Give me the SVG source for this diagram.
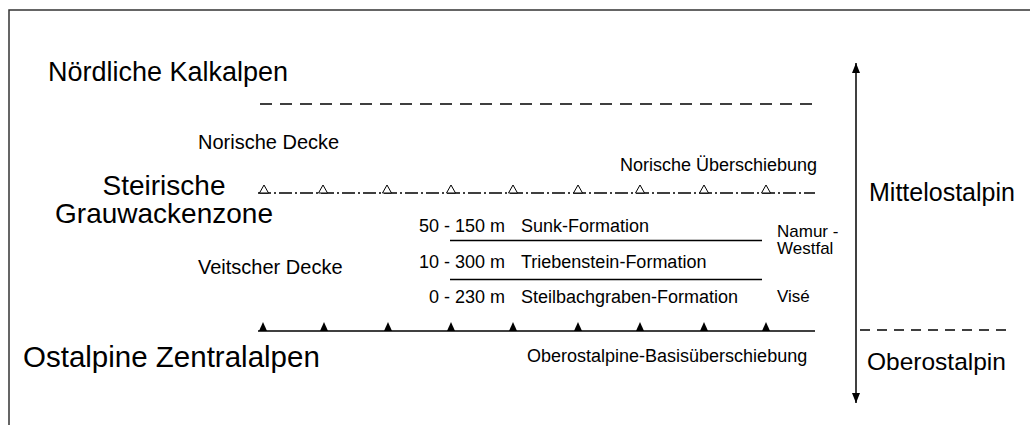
<svg xmlns="http://www.w3.org/2000/svg" width="1030" height="425" viewBox="0 0 1030 425">
<style>
text{font-family:"Liberation Sans",Arial,sans-serif;fill:#000}
.big{font-size:27px}
.sm{font-size:18px}
.xs{font-size:17px}
.md{font-size:20px}
.ln{stroke:#000;stroke-width:1.5;fill:none}
.frame{stroke:#333;stroke-width:1.5;fill:none}
.otri{fill:#fff;stroke:#000;stroke-width:1}
.ftri{fill:#000;stroke:none}
</style>
<defs>
<polygon id="ot" class="otri" points="-4.5,0 4.5,0 0,-8"/>
<polygon id="ft" class="ftri" points="-4,0 4,0 0,-9"/>
<marker id="ah" viewBox="0 0 10 10" refX="10" refY="5" markerWidth="10" markerHeight="10" markerUnits="userSpaceOnUse" orient="auto-start-reverse">
<path d="M0,1 L10,5 L0,9 z" fill="#000"/>
</marker>
</defs>
<path class="frame" d="M9,425 V10 H1030"/>
<g id="connectors">
<line id="top-dash" class="ln" x1="260" y1="104" x2="812" y2="104" stroke-dasharray="12 8"/>
<line id="norische-line" x1="258" y1="193" x2="815" y2="193" stroke="#000" stroke-width="1.5" stroke-dasharray="13 3 2 3"/>
<line id="sunk-line" class="ln" x1="450" y1="240.5" x2="762" y2="240.5"/>
<line id="trieben-line" class="ln" x1="450" y1="279.5" x2="762" y2="279.5"/>
<line id="basal-line" class="ln" x1="258" y1="331" x2="815" y2="331"/>
<line id="scale-arrow" class="ln" x1="856" y1="63" x2="856" y2="403" marker-start="url(#ah)" marker-end="url(#ah)"/>
<line id="right-dash" class="ln" x1="860" y1="330" x2="1010" y2="330" stroke-dasharray="10 7"/>
</g>
<g id="norische-triangles">
<use href="#ot" x="264" y="193"/><use href="#ot" x="323" y="193"/><use href="#ot" x="387" y="193"/>
<use href="#ot" x="451" y="193"/><use href="#ot" x="513" y="193"/><use href="#ot" x="578" y="193"/>
<use href="#ot" x="640" y="193"/><use href="#ot" x="704" y="193"/><use href="#ot" x="766" y="193"/>
</g>
<g id="basal-triangles">
<use href="#ft" x="263" y="331"/><use href="#ft" x="324" y="331"/><use href="#ft" x="388" y="331"/>
<use href="#ft" x="451" y="331"/><use href="#ft" x="513" y="331"/><use href="#ft" x="578" y="331"/>
<use href="#ft" x="640" y="331"/><use href="#ft" x="704" y="331"/><use href="#ft" x="766" y="331"/>
</g>
<g id="n-kalkalpen"><text class="big" x="48" y="81">Nördliche Kalkalpen</text></g>
<g id="n-norische-decke"><text class="md" x="198" y="149">Norische Decke</text></g>
<g id="n-norische-ueb"><text class="sm" x="817" y="171" text-anchor="end">Norische Überschiebung</text></g>
<g id="n-grauwacken"><text class="big" x="164" y="195" text-anchor="middle" style="font-size:28px">Steirische</text><text class="big" x="164" y="223" text-anchor="middle" style="font-size:28px">Grauwackenzone</text></g>
<g id="n-veitscher"><text class="md" x="198" y="274">Veitscher Decke</text></g>
<g id="n-sunk"><text class="sm" x="505" y="232" text-anchor="end">50 - 150 m</text><text class="sm" x="521" y="232">Sunk-Formation</text></g>
<g id="n-trieben"><text class="sm" x="505" y="268" text-anchor="end">10 - 300 m</text><text class="sm" x="521" y="268">Triebenstein-Formation</text></g>
<g id="n-steilbach"><text class="sm" x="505" y="303" text-anchor="end">0 - 230 m</text><text class="sm" x="521" y="303">Steilbachgraben-Formation</text></g>
<g id="n-namur"><text class="xs" x="777" y="237">Namur -</text><text class="xs" x="777" y="254">Westfal</text></g>
<g id="n-vise"><text class="xs" x="777" y="302">Visé</text></g>
<g id="n-zentralalpen"><text class="big" x="23" y="367" style="font-size:29.5px">Ostalpine Zentralalpen</text></g>
<g id="n-basis"><text class="sm" x="527" y="362">Oberostalpine-Basisüberschiebung</text></g>
<g id="n-mittel"><text class="big" x="869" y="201" style="font-size:25px">Mittelostalpin</text></g>
<g id="n-ober"><text class="big" x="867" y="370" style="font-size:24.5px">Oberostalpin</text></g>
</svg>
